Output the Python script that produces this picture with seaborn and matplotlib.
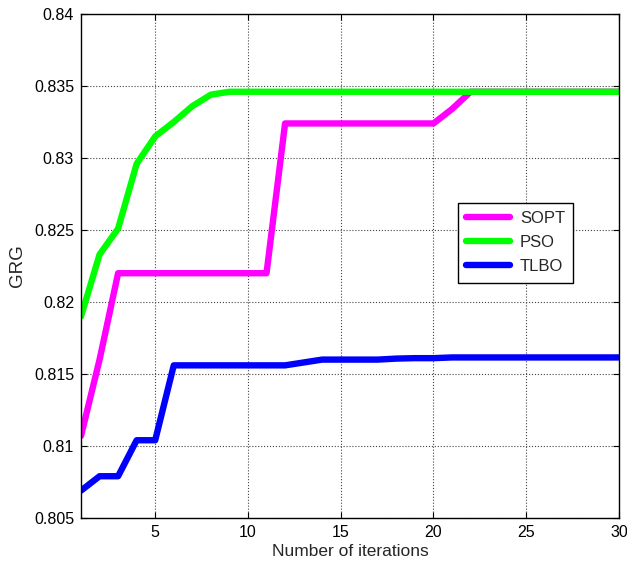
import matplotlib
matplotlib.use('Agg')
import matplotlib.pyplot as plt
import pandas as pd
import seaborn as sns

# 迭代次数
iterations = list(range(1, 31))

# 各算法的收敛曲线 (GRG)
sopt = [0.8107, 0.8160, 0.8220, 0.8220, 0.8220, 0.8220, 0.8220, 0.8220, 0.8220, 0.8220,
        0.8220, 0.8324, 0.8324, 0.8324, 0.8324, 0.8324, 0.8324, 0.8324, 0.8324, 0.8324,
        0.8334, 0.8346, 0.8346, 0.8346, 0.8346, 0.8346, 0.8346, 0.8346, 0.8346, 0.8346]
pso = [0.8190, 0.8233, 0.8251, 0.8296, 0.8315, 0.8325, 0.8336, 0.8344, 0.8346, 0.8346,
       0.8346, 0.8346, 0.8346, 0.8346, 0.8346, 0.8346, 0.8346, 0.8346, 0.8346, 0.8346,
       0.8346, 0.8346, 0.8346, 0.8346, 0.8346, 0.8346, 0.8346, 0.8346, 0.8346, 0.8346]
tlbo = [0.8069, 0.8079, 0.8079, 0.8104, 0.8104, 0.8156, 0.8156, 0.8156, 0.8156, 0.8156,
        0.8156, 0.8156, 0.8158, 0.8160, 0.8160, 0.8160, 0.8160, 0.81607, 0.8161, 0.8161,
        0.81615, 0.81615, 0.81615, 0.81615, 0.81615, 0.81615, 0.81615, 0.81615, 0.81615, 0.81615]

algorithms = ['SOPT', 'PSO', 'TLBO']
colors = ['#FF00FF', '#00FF00', '#0000FF']
x_ticks = [5, 10, 15, 20, 25, 30]
y_ticks = [0.805, 0.81, 0.815, 0.82, 0.825, 0.83, 0.835, 0.84]
y_tick_labels = ['0.805', '0.81', '0.815', '0.82', '0.825', '0.83', '0.835', '0.84']

# 长格式数据
df = pd.DataFrame({
    'iteration': iterations * 3,
    'GRG': sopt + pso + tlbo,
    'algorithm': ['SOPT'] * 30 + ['PSO'] * 30 + ['TLBO'] * 30,
})

sns.set_style('white')
plt.rcParams['font.family'] = ['Liberation Sans', 'DejaVu Sans']

fig = plt.figure(figsize=(6.27, 5.65), dpi=100)
ax = fig.add_axes([0.1292, 0.0832, 0.8580, 0.8920])

sns.lineplot(data=df, x='iteration', y='GRG', hue='algorithm', hue_order=algorithms,
             palette=colors, linewidth=4.6, ax=ax, legend=True)

ax.set_xlim(1, 30)
ax.set_ylim(0.805, 0.84)
ax.set_xticks(x_ticks)
ax.set_yticks(y_ticks)
ax.set_yticklabels(y_tick_labels)
ax.tick_params(direction='in', length=4, labelsize=11.5, colors='black',
               top=True, right=True, bottom=True, left=True, pad=5)
ax.grid(True, color='#444444', linestyle=':', linewidth=0.8)
for spine in ax.spines.values():
    spine.set_color('black')
    spine.set_linewidth(1.0)

ax.set_xlabel('Number of iterations', fontsize=12.5, labelpad=3)
ax.set_ylabel('GRG', fontsize=13.5, labelpad=6)

leg = ax.legend(loc='upper left', bbox_to_anchor=(0.701, 0.626), borderaxespad=0,
                fancybox=False, framealpha=1, edgecolor='black', fontsize=12,
                handlelength=2.6, handletextpad=0.6, labelspacing=0.55,
                borderpad=0.5, title=None)
leg.get_frame().set_linewidth(1.0)
for line in leg.get_lines():
    line.set_linewidth(4.6)

plt.savefig('out.png', dpi=100)
plt.close()
